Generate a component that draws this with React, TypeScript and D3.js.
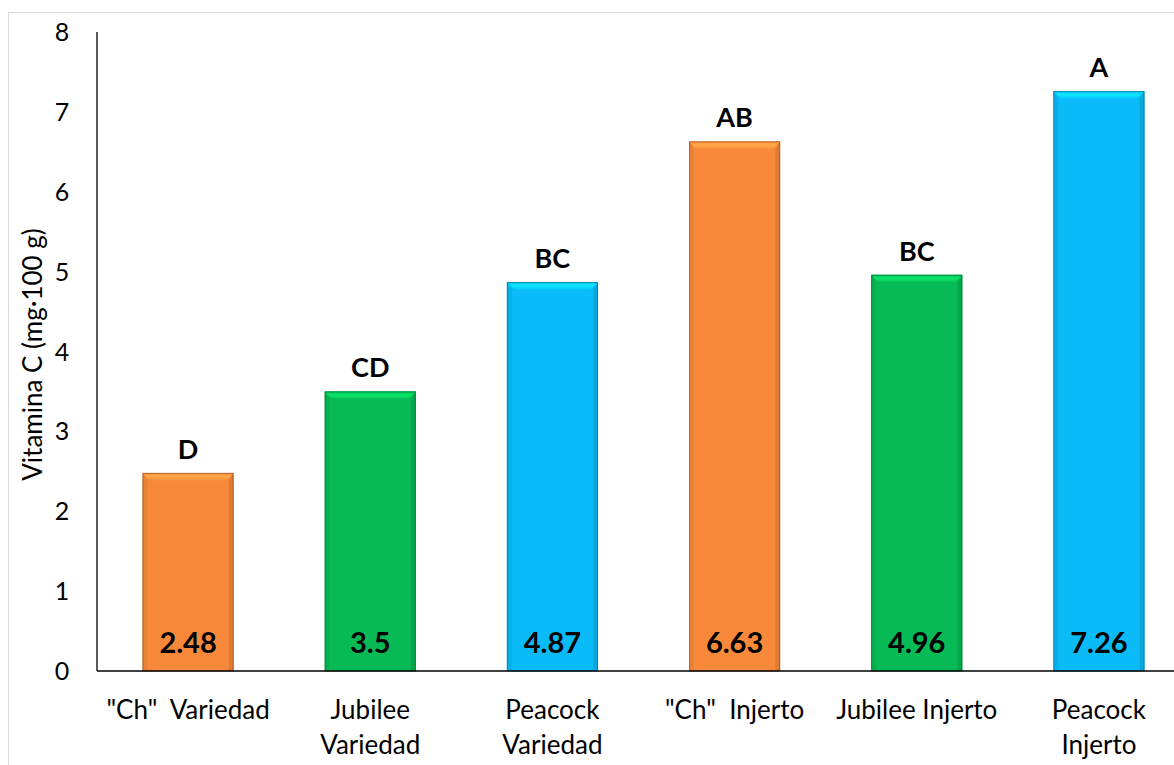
import React from "react";
import * as d3 from "d3";

const categories = [
  ["\"Ch\"  Variedad"],
  ["Jubilee", "Variedad"],
  ["Peacock", "Variedad"],
  ["\"Ch\"  Injerto"],
  ["Jubilee Injerto"],
  ["Peacock", "Injerto"],
];
const values = [2.48, 3.5, 4.87, 6.63, 4.96, 7.26];
const valueLabels = ["2.48", "3.5", "4.87", "6.63", "4.96", "7.26"];
const letters = ["D", "CD", "BC", "AB", "BC", "A"];
const colors = ["#F8893A", "#07BA55", "#0ABBF8", "#F8893A", "#07BA55", "#0ABBF8"];
const yTicks = [0, 1, 2, 3, 4, 5, 6, 7, 8];

const W = 1174;
const H = 765;
const plotLeft = 97;
const plotRight = 1190;
const yTop = 32;
const yBottom = 671;
const FONT = "Lato, 'Open Sans', sans-serif";

export default function App() {
  const x = d3
    .scaleBand<number>()
    .domain(values.map((_, i) => i))
    .range([plotLeft, plotRight])
    .paddingInner(0.5)
    .paddingOuter(0.25);
  const y = d3.scaleLinear().domain([0, 8]).range([yBottom, yTop]);
  const bw = x.bandwidth();
  const bev = 8;

  return (
    <svg
      width={W}
      height={H}
      style={{ position: "absolute", left: 0, top: 0, background: "#fff" }}
      fontFamily={FONT}
    >
      <defs>
        {colors.map((c, i) => {
          const cc = d3.color(c)!;
          return (
            <linearGradient key={i} id={`top${i}`} x1="0" y1="0" x2="0" y2="1">
              <stop offset="0" stopColor={cc.brighter(0.2).formatHex()} />
              <stop offset="0.5" stopColor={cc.brighter(0.6).formatHex()} />
              <stop offset="1" stopColor={c} />
            </linearGradient>
          );
        })}
      </defs>
      <rect x={8.5} y={12.5} width={W + 20} height={H + 20} fill="#fff" stroke="#d9d9d9" strokeWidth={1} />
      {values.map((v, i) => {
        const x0 = x(i)!;
        const x1 = x0 + bw;
        const y0 = y(v);
        const y1 = y(0);
        const c = d3.color(colors[i])!;
        const dark = c.darker(0.6).formatHex();
        const darker = c.darker(1.4).formatHex();
        return (
          <g key={i}>
            <rect x={x0} y={y0} width={bw} height={y1 - y0} fill={colors[i]} />
            <polygon
              points={`${x0},${y0} ${x0 + bev * 0.6},${y0 + bev} ${x0 + bev * 0.6},${y1} ${x0},${y1}`}
              fill={dark}
              opacity={0.3}
            />
            <polygon
              points={`${x1},${y0} ${x1 - bev * 0.6},${y0 + bev} ${x1 - bev * 0.6},${y1} ${x1},${y1}`}
              fill={dark}
              opacity={0.55}
            />
            <polygon
              points={`${x0},${y0} ${x1},${y0} ${x1 - bev},${y0 + bev} ${x0 + bev},${y0 + bev}`}
              fill={`url(#top${i})`}
            />
            <rect x={x0 + 0.5} y={y0 + 0.5} width={bw - 1} height={y1 - y0 - 0.5} fill="none" stroke={darker} strokeOpacity={0.7} strokeWidth={1} />
            <text x={x0 + bw / 2} y={y0 - 14} textAnchor="middle" fontSize={27} fontWeight="bold" fill="#000">
              {letters[i]}
            </text>
            <text x={x0 + bw / 2} y={y1 - 18} textAnchor="middle" fontSize={29} fontWeight="bold" fill="#000">
              {valueLabels[i]}
            </text>
          </g>
        );
      })}
      <line x1={plotLeft} x2={plotLeft} y1={yTop} y2={yBottom} stroke="#000" strokeWidth={1.3} />
      <line x1={plotLeft} x2={W} y1={yBottom} y2={yBottom} stroke="#000" strokeWidth={1.5} />
      {yTicks.map((t) => (
        <text key={t} x={62} y={y(t) + 9} textAnchor="middle" fontSize={25} fill="#000">
          {t}
        </text>
      ))}
      {categories.map((lines, i) => (
        <text key={i} textAnchor="middle" fontSize={26} fill="#000">
          {lines.map((l, j) => (
            <tspan key={j} x={x(i)! + bw / 2} y={719 + j * 35} style={{ whiteSpace: "pre" }}>
              {l}
            </tspan>
          ))}
        </text>
      ))}
      <text
        transform={`translate(42, ${(yTop + yBottom) / 2 + 3}) rotate(-90)`}
        textAnchor="middle"
        fontSize={26}
        fill="#000"
      >
        Vitamina C (mg·100 g)
      </text>
    </svg>
  );
}
